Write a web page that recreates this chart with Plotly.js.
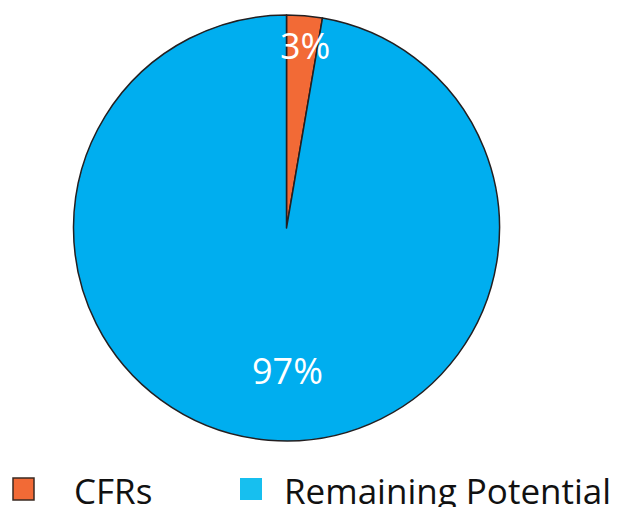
<!DOCTYPE html>
<html>
<head>
<meta charset="utf-8">
<script src="https://cdn.plot.ly/plotly-3.0.1.min.js"></script>
<style>html,body{margin:0;padding:0;background:#fff;}#chart{width:638px;height:507px;}</style>
</head>
<body>
<div id="chart"></div>
<script>
const labels = ["CFRs", "Remaining Potential"];
const values = [2.7, 97.3];
const sliceColors = ["#F26A36", "#00AEEF"];
const legendColors = ["#F26A36", "#17BFEF"];

const W = 638, H = 507;
const px = x => x / W;
const py = y => 1 - y / H;

const total = values.reduce((a, b) => a + b, 0);
const pctText = values.map(v => Math.round(v / total * 100) + "%");

const data = [{
  type: "pie",
  labels: labels,
  values: values,
  sort: false,
  direction: "clockwise",
  rotation: 0,
  marker: { colors: sliceColors, line: { color: "#231F20", width: 1.5 } },
  textinfo: "none",
  hoverinfo: "label+percent",
  showlegend: false,
  domain: { x: [px(73.5), px(499.5)], y: [py(441), py(15)] }
}];

const font = "'Open Sans', 'Noto Sans', sans-serif";
const labelPos = [[304.5, 45], [287.5, 370]];
const annotations = pctText.map((t, i) => ({
  xref: "paper", yref: "paper",
  x: px(labelPos[i][0]), y: py(labelPos[i][1]),
  xanchor: "center", yanchor: "middle",
  text: t, showarrow: false,
  font: { family: font, size: 36, color: "#ffffff" }
}));

const legSquares = [[13, 34], [240, 262]];
const legTextX = [72, 282];
const shapes = [];
labels.forEach((lab, i) => {
  shapes.push({
    type: "rect", xref: "paper", yref: "paper",
    x0: px(legSquares[i][0]), x1: px(legSquares[i][1]),
    y0: py(500), y1: py(478),
    fillcolor: legendColors[i],
    line: { color: i === 0 ? "#3A2A22" : legendColors[i], width: i === 0 ? 1.5 : 0 }
  });
  annotations.push({
    xref: "paper", yref: "paper",
    x: px(legTextX[i]), y: py(490),
    xanchor: "left", yanchor: "middle",
    text: lab, showarrow: false,
    font: { family: font, size: 35, color: "#111111" }
  });
});

const layout = {
  width: W, height: H,
  margin: { l: 0, r: 0, t: 0, b: 0, autoexpand: false },
  paper_bgcolor: "#ffffff",
  showlegend: false,
  annotations: annotations,
  shapes: shapes
};

Plotly.newPlot("chart", data, layout, { displayModeBar: false, staticPlot: true });
</script>
</body>
</html>
